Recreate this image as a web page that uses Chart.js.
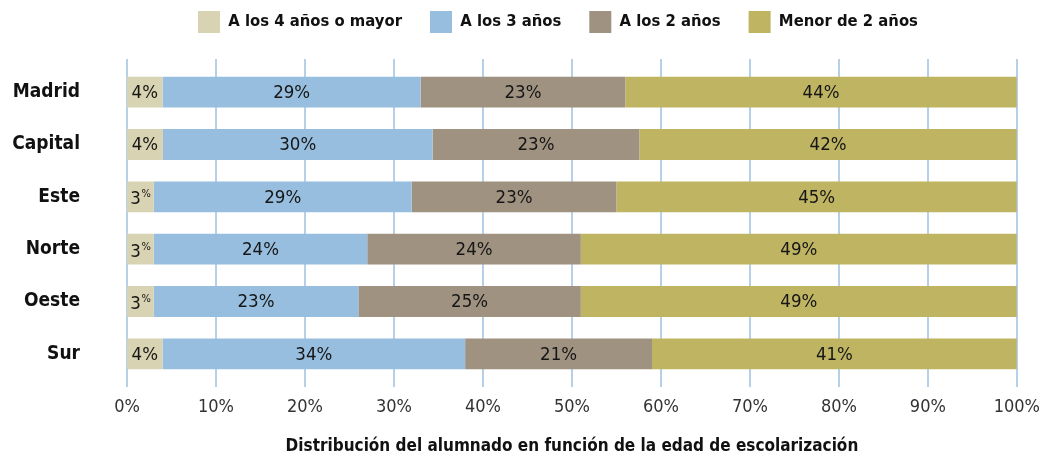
<!DOCTYPE html>
<html>
<head>
<meta charset="utf-8">
<script src="https://cdn.jsdelivr.net/npm/chart.js@4.4.1/dist/chart.umd.min.js"></script>
<style>
  html, body { margin: 0; padding: 0; background: #ffffff; }
  #wrap { width: 1057px; height: 459px; }
</style>
</head>
<body>
<div id="wrap"><canvas id="chart" width="1057" height="459"></canvas></div>
<script>
// Zonas y porcentaje de alumnado según la edad a la que empezó a escolarizarse
const regions = ['Madrid', 'Capital', 'Este', 'Norte', 'Oeste', 'Sur'];
const seriesNames = ['A los 4 años o mayor', 'A los 3 años', 'A los 2 años', 'Menor de 2 años'];
const age4OrOlder = [4, 4, 3, 3, 3, 4];
const age3 = [29, 30, 29, 24, 23, 34];
const age2 = [23, 23, 23, 24, 25, 21];
const under2 = [44, 42, 45, 49, 49, 41];
const xTickValues = [0, 10, 20, 30, 40, 50, 60, 70, 80, 90, 100];
const axisTitle = 'Distribución del alumnado en función de la edad de escolarización';
const seriesColors = ['#d8d3b2', '#97bede', '#9f9280', '#bfb462'];

const NARROW = '"DejaVu Sans Condensed", "Liberation Sans Narrow", sans-serif';
const series = [age4OrOlder, age3, age2, under2];

// each bar is a 100% stack: segments are shares of their row total
const rowTotals = regions.map((_, j) => series.reduce((s, arr) => s + arr[j], 0));

const datasets = series.map((values, i) => ({
  label: seriesNames[i],
  data: values.map((v, j) => v / rowTotals[j] * 100),
  shares: values,
  backgroundColor: seriesColors[i],
  borderWidth: 0,
  barPercentage: 0.59,
  categoryPercentage: 1.0
}));

// vertical guide lines, reaching slightly past the plot area
const gridLines = {
  id: 'gridLines',
  beforeDatasetsDraw(chart) {
    const { ctx, chartArea } = chart;
    const xs = chart.scales.x;
    ctx.save();
    ctx.strokeStyle = '#b7d0ea';
    ctx.lineWidth = 2;
    xs.ticks.forEach(t => {
      const px = Math.round(xs.getPixelForValue(t.value));
      ctx.beginPath();
      ctx.moveTo(px, chartArea.top - 7);
      ctx.lineTo(px, chartArea.bottom + 7);
      ctx.stroke();
    });
    ctx.restore();
  }
};

// percentage written inside every segment
const segmentLabels = {
  id: 'segmentLabels',
  afterDatasetsDraw(chart) {
    const ctx = chart.ctx;
    const big = '18.5px ' + NARROW;
    const small = '11px ' + NARROW;
    ctx.save();
    ctx.fillStyle = '#161616';
    chart.data.datasets.forEach((ds, i) => {
      const meta = chart.getDatasetMeta(i);
      meta.data.forEach((bar, j) => {
        const left = Math.min(bar.x, bar.base);
        const right = Math.max(bar.x, bar.base);
        const cx = (left + right) / 2;
        const w = right - left;
        const num = String(ds.shares[j]);
        ctx.font = big;
        const full = num + '%';
        if (ctx.measureText(full).width <= w - 6) {
          ctx.textAlign = 'center';
          ctx.textBaseline = 'middle';
          ctx.fillText(full, cx, bar.y + 1);
        } else {
          // narrow segment: smaller raised percent sign
          const nw = ctx.measureText(num).width;
          ctx.font = small;
          const pw = ctx.measureText('%').width;
          const x0 = cx - (nw + pw) / 2;
          ctx.textAlign = 'left';
          ctx.textBaseline = 'alphabetic';
          ctx.font = big;
          ctx.fillText(num, x0, bar.y + 7.5);
          ctx.font = small;
          ctx.fillText('%', x0 + nw + 0.5, bar.y + 0.5);
        }
      });
    });
    ctx.restore();
  }
};

// legend sits higher and further right than the default placement,
// with extra room left between it and the plot
const legendPlacement = {
  id: 'legendPlacement',
  afterInit(chart) {
    const lg = chart.legend;
    if (!lg) return;
    const fit = lg.fit.bind(lg);
    lg.fit = function () { fit(); this.height += 6; };
    const draw = lg.draw.bind(lg);
    lg.draw = function () {
      const boxes = this.legendHitBoxes || [];
      const dx = boxes.length ? 198 - boxes[0].left : 0;
      this.ctx.save();
      this.ctx.translate(dx, -17);
      draw();
      this.ctx.restore();
    };
  }
};

new Chart(document.getElementById('chart'), {
  type: 'bar',
  data: { labels: regions, datasets },
  options: {
    indexAxis: 'y',
    responsive: false,
    devicePixelRatio: 1,
    animation: false,
    layout: { padding: { top: 0, right: 40, bottom: 0, left: 0 } },
    plugins: {
      legend: {
        position: 'top',
        align: 'center',
        labels: {
          boxWidth: 22,
          boxHeight: 22,
          padding: 28,
          color: '#111111',
          font: { family: NARROW, size: 16.5, weight: 'bold' }
        }
      },
      tooltip: { enabled: false }
    },
    scales: {
      x: {
        type: 'linear',
        stacked: true,
        min: 0,
        max: 100,
        afterBuildTicks(scale) { scale.ticks = xTickValues.map(v => ({ value: v })); },
        grid: { display: false, drawTicks: false },
        border: { display: false },
        ticks: {
          padding: 17,
          color: '#333333',
          font: { family: NARROW, size: 18 },
          callback: v => v + '%'
        },
        title: {
          display: true,
          text: axisTitle,
          color: '#111111',
          font: { family: NARROW, size: 17, weight: 'bold' },
          padding: { top: 1, bottom: 2 }
        }
      },
      y: {
        stacked: true,
        grid: { display: false, drawTicks: false },
        border: { display: false },
        afterFit(scale) { scale.width = 127; },
        ticks: {
          padding: 47,
          color: '#111111',
          font: { family: NARROW, size: 19, weight: 'bold' }
        }
      }
    }
  },
  plugins: [legendPlacement, gridLines, segmentLabels]
});
</script>
</body>
</html>
